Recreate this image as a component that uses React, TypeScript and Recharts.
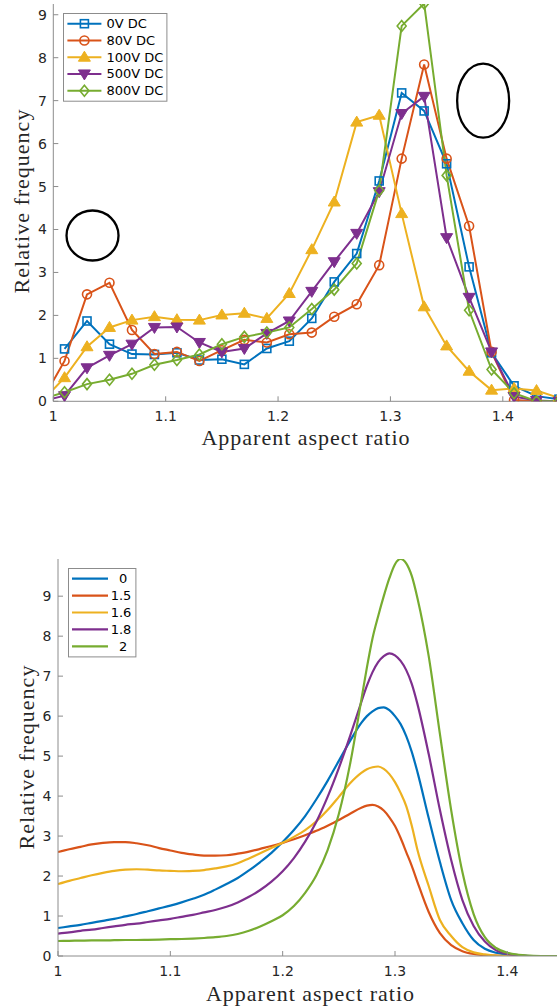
import React from "react";
import { LineChart, Line, XAxis, YAxis, Legend, ReferenceDot, Label } from "recharts";

// ---- top panel: measured histograms, bin centres every 0.02 ----
const BIN_X = [0.99, 1.01, 1.03, 1.05, 1.07, 1.09, 1.11, 1.13, 1.15, 1.17, 1.19, 1.21, 1.23, 1.25, 1.27, 1.29, 1.31, 1.33, 1.35, 1.37, 1.39, 1.41, 1.43, 1.45];
const DC_0V = [null, 1.22, 1.87, 1.33, 1.1, 1.09, 1.13, 0.96, 0.98, 0.86, 1.23, 1.4, 1.93, 2.78, 3.44, 5.13, 7.18, 6.76, 5.53, 3.13, 1.13, 0.36, 0.12, 0.05];
const DC_80V = [0.02, 0.94, 2.49, 2.76, 1.66, 1.1, 1.15, 0.94, 1.19, 1.43, 1.37, 1.56, 1.6, 1.97, 2.26, 3.17, 5.65, 7.84, 5.65, 4.08, 1.15, 0.03, 0.0, 0.0];
const DC_100V = [0, 0.55, 1.27, 1.72, 1.89, 1.97, 1.9, 1.89, 2.01, 2.05, 1.93, 2.51, 3.53, 4.64, 6.5, 6.66, 4.37, 2.2, 1.29, 0.7, 0.26, 0.3, 0.25, 0.08];
const DC_500V = [0, 0.13, 0.78, 1.07, 1.33, 1.72, 1.73, 1.37, 1.15, 1.23, 1.58, 1.87, 2.56, 3.25, 3.91, 4.88, 6.7, 7.1, 3.81, 2.42, 1.15, 0.11, 0.02, 0.0];
const DC_800V = [0.05, 0.21, 0.4, 0.5, 0.64, 0.85, 0.96, 1.09, 1.33, 1.5, 1.6, 1.72, 2.15, 2.6, 3.21, 4.91, 8.74, 9.26, 5.26, 2.12, 0.74, 0.19, 0.0, 0.0];

// particle outlines drawn on the top panel (data coords of centres)
const OUTLINE_CENTRES = [
  [1.0349, 3.86],
  [1.3825, 7.0],
];

// ---- bottom panel: fitted curves ----
const FIT_X = [
  1.0, 1.01, 1.02, 1.03, 1.04, 1.05, 1.06, 1.07, 1.08, 1.09, 1.1, 1.11, 1.12, 1.13, 1.14, 1.15, 1.16, 1.17, 1.18, 1.19, 1.2, 1.21, 1.22, 1.23, 1.24, 1.25, 1.26,
  1.27, 1.275, 1.28, 1.285, 1.29, 1.295, 1.3, 1.305, 1.31, 1.315, 1.32,
  1.33, 1.34, 1.35, 1.36, 1.37, 1.38, 1.39, 1.4, 1.41, 1.42, 1.43, 1.44, 1.45,
];
const FIT_0 = [
  0.7, 0.74, 0.78, 0.83, 0.88, 0.93, 0.99, 1.05, 1.12, 1.19, 1.26, 1.34, 1.43, 1.53, 1.66, 1.8, 1.95, 2.14, 2.35, 2.58, 2.85, 3.15, 3.5, 3.92, 4.38, 4.88, 5.38,
  5.83, 6.0, 6.12, 6.2, 6.22, 6.15, 6.0, 5.8, 5.5, 5.1, 4.6,
  3.45, 2.35, 1.4, 0.82, 0.4, 0.18, 0.08, 0.03, 0.01, 0, 0, 0, 0,
];
const FIT_15 = [
  2.6, 2.67, 2.73, 2.79, 2.83, 2.85, 2.85, 2.82, 2.77, 2.7, 2.64, 2.58, 2.54, 2.51, 2.51, 2.52, 2.56, 2.61, 2.68, 2.75, 2.83, 2.92, 3.02, 3.13, 3.26, 3.4, 3.56,
  3.71, 3.76, 3.78, 3.74, 3.64, 3.47, 3.25, 2.95, 2.6, 2.25, 1.85,
  1.1, 0.57, 0.27, 0.12, 0.05, 0.02, 0.01, 0, 0, 0, 0, 0, 0,
];
const FIT_16 = [
  1.8, 1.88, 1.95, 2.02, 2.08, 2.13, 2.16, 2.17, 2.16, 2.14, 2.13, 2.12, 2.13, 2.15, 2.19, 2.24, 2.32, 2.44, 2.57, 2.7, 2.83, 2.98, 3.15, 3.37, 3.65, 3.98, 4.32,
  4.58, 4.67, 4.72, 4.74, 4.68, 4.55, 4.35, 4.08, 3.75, 3.25, 2.65,
  1.75, 0.9, 0.5, 0.22, 0.09, 0.04, 0.01, 0, 0, 0, 0, 0, 0,
];
const FIT_18 = [
  0.56, 0.59, 0.63, 0.66, 0.7, 0.74, 0.78, 0.81, 0.85, 0.89, 0.93, 0.98, 1.03, 1.09, 1.15, 1.23, 1.34, 1.48, 1.65, 1.86, 2.12, 2.45, 2.86, 3.36, 3.98, 4.7, 5.5,
  6.35, 6.76, 7.1, 7.35, 7.5, 7.57, 7.52, 7.38, 7.15, 6.8, 6.3,
  5.05, 3.65, 2.4, 1.4, 0.75, 0.36, 0.14, 0.05, 0.02, 0, 0, 0, 0,
];
const FIT_2 = [
  0.375, 0.38, 0.385, 0.39, 0.39, 0.395, 0.4, 0.4, 0.405, 0.41, 0.42, 0.425, 0.435, 0.45, 0.47, 0.5, 0.55, 0.63, 0.74, 0.87, 1.02, 1.25, 1.58, 2.02, 2.65, 3.55, 4.8,
  6.4, 7.22, 7.95, 8.5, 9.0, 9.45, 9.8, 9.93, 9.82, 9.5, 8.95,
  7.5, 5.55, 3.65, 2.1, 1.05, 0.47, 0.2, 0.08, 0.03, 0.01, 0, 0, 0,
];

const X_TICKS = [1, 1.1, 1.2, 1.3, 1.4];
const Y_TICKS = [0, 1, 2, 3, 4, 5, 6, 7, 8, 9];

// MATLAB default line colours
const BLUE = "#0072BD";
const ORANGE = "#D95319";
const YELLOW = "#EDB120";
const PURPLE = "#7E2F8E";
const GREEN = "#77AC30";
const AX = "#8c8c8c";
const INK = "#262626";

const tickFont = { fontFamily: "DejaVu Sans", fontSize: 14, fill: INK };
const labelFont = { fontFamily: "Liberation Serif", fontSize: 22, fill: INK, letterSpacing: 1 };
const legendFont = { fontFamily: "DejaVu Sans", fontSize: 13, fill: "#000" };

type MarkerKind = "square" | "circle" | "up" | "down" | "diamond";

const DC_SERIES: { name: string; values: (number | null)[]; color: string; marker: MarkerKind }[] = [
  { name: "0V DC", values: DC_0V, color: BLUE, marker: "square" },
  { name: "80V DC", values: DC_80V, color: ORANGE, marker: "circle" },
  { name: "100V DC", values: DC_100V, color: YELLOW, marker: "up" },
  { name: "500V DC", values: DC_500V, color: PURPLE, marker: "down" },
  { name: "800V DC", values: DC_800V, color: GREEN, marker: "diamond" },
];

const FIT_SERIES = [
  { name: "  0", values: FIT_0, color: BLUE },
  { name: "1.5", values: FIT_15, color: ORANGE },
  { name: "1.6", values: FIT_16, color: YELLOW },
  { name: "1.8", values: FIT_18, color: PURPLE },
  { name: "  2", values: FIT_2, color: GREEN },
];

const toRows = (xs: number[], ys: (number | null)[]) => xs.map((x, i) => ({ x, y: ys[i] }));
const fmt = (v: number) => String(Math.round(v * 10) / 10);

function Marker({ kind, cx, cy, color }: { kind: MarkerKind; cx: number; cy: number; color: string }) {
  const sw = 1.6;
  switch (kind) {
    case "square":
      return <rect x={cx - 4} y={cy - 4} width={8} height={8} fill="none" stroke={color} strokeWidth={sw} />;
    case "circle":
      return <circle cx={cx} cy={cy} r={4.5} fill="none" stroke={color} strokeWidth={sw} />;
    case "up":
      return <path d={`M${cx},${cy - 6} L${cx + 6},${cy + 4} L${cx - 6},${cy + 4} Z`} fill={color} stroke={color} strokeWidth={1} />;
    case "down":
      return <path d={`M${cx},${cy + 6} L${cx + 6},${cy - 4} L${cx - 6},${cy - 4} Z`} fill={color} stroke={color} strokeWidth={1} />;
    default:
      return <path d={`M${cx},${cy - 5.5} L${cx + 4.5},${cy} L${cx},${cy + 5.5} L${cx - 4.5},${cy} Z`} fill="none" stroke={color} strokeWidth={sw} />;
  }
}

// inward-pointing ticks, MATLAB style
const bottomTick = (props: any) => {
  const { x, y, payload } = props;
  return (
    <g>
      <line x1={x} x2={x} y1={y} y2={y - 5} stroke={AX} />
      <text x={x} y={y + 14.5} textAnchor="middle" dominantBaseline="central" style={tickFont}>
        {fmt(payload.value)}
      </text>
    </g>
  );
};
const topTick = (props: any) => {
  const { x, y } = props;
  return <line x1={x} x2={x} y1={y} y2={y + 5} stroke={AX} />;
};
const leftTick = (props: any) => {
  const { x, y, payload } = props;
  return (
    <g>
      <line x1={x} x2={x + 5} y1={y} y2={y} stroke={AX} />
      <text x={x - 6.5} y={y} textAnchor="end" dominantBaseline="central" style={tickFont}>
        {payload.value}
      </text>
    </g>
  );
};
const rightTick = (props: any) => {
  const { x, y } = props;
  return <line x1={x} x2={x - 5} y1={y} y2={y} stroke={AX} />;
};

const xTitle = (cx: number, cy: number) => () => (
  <text x={cx} y={cy} textAnchor="middle" dominantBaseline="central" style={labelFont}>
    Apparent aspect ratio
  </text>
);
const yTitle = (cx: number, cy: number) => () => (
  <text x={cx} y={cy} transform={`rotate(-90 ${cx} ${cy})`} textAnchor="middle" dominantBaseline="central" style={labelFont}>
    Relative frequency
  </text>
);

// legends keep the plotting order (Recharts would sort them by name)
function DcLegend() {
  return (
    <svg width={106} height={90} style={{ display: "block" }}>
      <rect x={0.5} y={0.5} width={103.4} height={87.7} fill="#fff" stroke={AX} />
      {DC_SERIES.map((s, i) => {
        const cy = 10.7 + i * 16.75;
        return (
          <g key={s.name}>
            <line x1={4.4} x2={38.4} y1={cy} y2={cy} stroke={s.color} strokeWidth={2} />
            <Marker kind={s.marker} cx={21.4} cy={cy} color={s.color} />
            <text x={43.4} y={cy} dominantBaseline="central" style={legendFont}>
              {s.name}
            </text>
          </g>
        );
      })}
    </svg>
  );
}

function FitLegend() {
  return (
    <svg width={70} height={91} style={{ display: "block" }}>
      <rect x={0.5} y={0.5} width={67.4} height={88.4} fill="#fff" stroke={AX} />
      {FIT_SERIES.map((s, i) => {
        const cy = 10.7 + i * 16.9;
        return (
          <g key={s.name}>
            <line x1={4} x2={40} y1={cy} y2={cy} stroke={s.color} strokeWidth={2.2} />
            <text x={42.7} y={cy} dominantBaseline="central" style={{ ...legendFont, whiteSpace: "pre" }}>
              {s.name}
            </text>
          </g>
        );
      })}
    </svg>
  );
}

const OUTLINE_RADII = [
  [26, 25],
  [26, 37],
];

function TopPanel() {
  return (
    <LineChart width={562} height={460} margin={{ top: 4, right: 3, bottom: 0, left: 0 }}>
      <XAxis
        dataKey="x"
        type="number"
        domain={[1, 1.45]}
        allowDataOverflow
        ticks={X_TICKS}
        interval={0}
        height={58.7}
        tickSize={0}
        tickMargin={0}
        tickLine={false}
        axisLine={{ stroke: AX }}
        tick={bottomTick}
      >
        <Label content={xTitle(306, 437)} />
      </XAxis>
      <XAxis xAxisId="top" orientation="top" dataKey="x" type="number" domain={[1, 1.45]} allowDataOverflow ticks={X_TICKS} interval={0} height={0} tickSize={0} tickMargin={0} tickLine={false} axisLine={{ stroke: AX }} tick={topTick} />
      <YAxis
        type="number"
        domain={[0, 9.25]}
        allowDataOverflow
        ticks={Y_TICKS}
        interval={0}
        width={53.3}
        tickSize={0}
        tickMargin={0}
        tickLine={false}
        axisLine={{ stroke: AX }}
        tick={leftTick}
      >
        <Label content={yTitle(21, 201)} />
      </YAxis>
      <YAxis yAxisId="right" orientation="right" type="number" domain={[0, 9.25]} allowDataOverflow ticks={Y_TICKS} interval={0} width={0} tickSize={0} tickMargin={0} tickLine={false} axisLine={{ stroke: AX }} tick={rightTick} />
      {DC_SERIES.map((s) => (
        <Line
          key={s.name}
          name={s.name}
          data={toRows(BIN_X, s.values)}
          dataKey="y"
          type="linear"
          stroke={s.color}
          strokeWidth={2}
          isAnimationActive={false}
          dot={(p: any) =>
            p.cy == null ? <g key={p.index} /> : <Marker key={p.index} kind={s.marker} cx={p.cx} cy={p.cy} color={s.color} />
          }
          activeDot={false}
        />
      ))}
      {OUTLINE_CENTRES.map(([x, y], i) => (
        <ReferenceDot
          key={i}
          x={x}
          y={y}
          r={OUTLINE_RADII[i][0]}
          ifOverflow="visible"
          shape={(p: any) => (
            <ellipse cx={p.cx} cy={p.cy} rx={OUTLINE_RADII[i][0]} ry={OUTLINE_RADII[i][1]} fill="none" stroke="#000" strokeWidth={2.3} />
          )}
        />
      ))}
      <Legend layout="vertical" align="center" verticalAlign="middle" wrapperStyle={{ left: 63, top: 13, width: 106 }} content={() => <DcLegend />} />
    </LineChart>
  );
}

function BottomPanel() {
  return (
    <LineChart width={566} height={466} margin={{ top: 19, right: 2.5, bottom: 0, left: 0 }}>
      <XAxis
        dataKey="x"
        type="number"
        domain={[1, 1.45]}
        allowDataOverflow
        ticks={X_TICKS}
        interval={0}
        height={50}
        tickSize={0}
        tickMargin={0}
        tickLine={false}
        axisLine={{ stroke: AX }}
        tick={bottomTick}
      >
        <Label content={xTitle(310.5, 453)} />
      </XAxis>
      <XAxis xAxisId="top" orientation="top" dataKey="x" type="number" domain={[1, 1.45]} allowDataOverflow ticks={X_TICKS} interval={0} height={0} tickSize={0} tickMargin={0} tickLine={false} axisLine={{ stroke: AX }} tick={topTick} />
      <YAxis
        type="number"
        domain={[0, 9.93]}
        allowDataOverflow
        ticks={Y_TICKS}
        interval={0}
        width={58}
        tickSize={0}
        tickMargin={0}
        tickLine={false}
        axisLine={{ stroke: AX }}
        tick={leftTick}
      >
        <Label content={yTitle(26, 217)} />
      </YAxis>
      {FIT_SERIES.map((s) => (
        <Line
          key={s.name}
          name={s.name}
          data={toRows(FIT_X, s.values)}
          dataKey="y"
          type="monotone"
          stroke={s.color}
          strokeWidth={2.2}
          dot={false}
          activeDot={false}
          isAnimationActive={false}
        />
      ))}
      <Legend layout="vertical" align="center" verticalAlign="middle" wrapperStyle={{ left: 68, top: 28, width: 70 }} content={() => <FitLegend />} />
    </LineChart>
  );
}

export default function App() {
  return (
    <div style={{ position: "absolute", left: 0, top: 0, width: 557, height: 1006, overflow: "hidden", background: "#fff" }}>
      <div style={{ position: "absolute", left: 0, top: 0 }}>
        <TopPanel />
      </div>
      <div style={{ position: "absolute", left: 0, top: 540 }}>
        <BottomPanel />
      </div>
    </div>
  );
}
